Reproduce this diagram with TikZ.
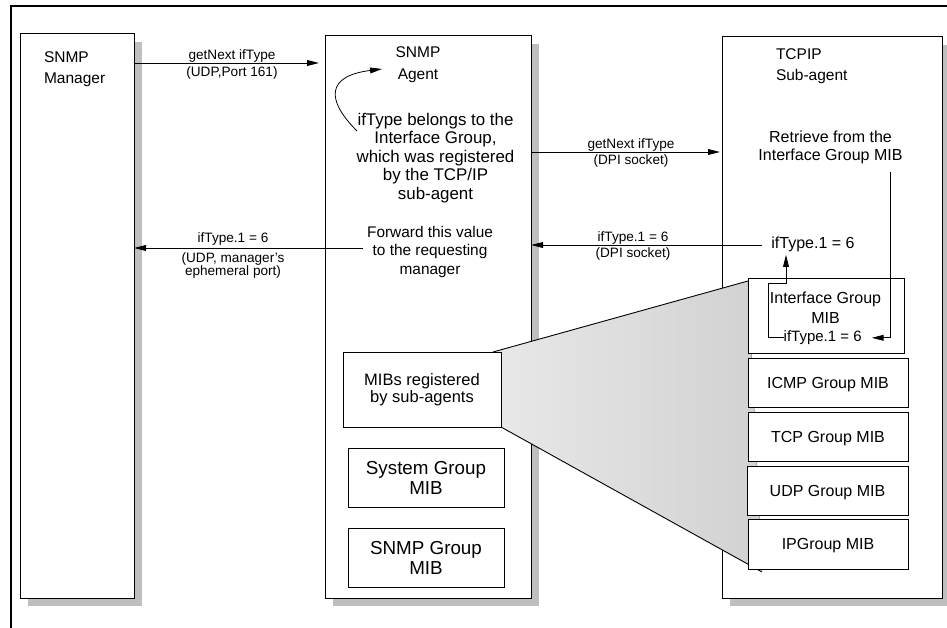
\documentclass[tikz,border=0pt]{standalone}
\usepackage{fontspec}
\setmainfont{Liberation Sans}
\usetikzlibrary{arrows.meta,shadows,calc}
\newcommand{\mlc}[1]{\begin{tabular}[t]{@{}c@{}}#1\end{tabular}}
\newcommand{\mlw}[1]{\begin{tabular}[t]{@{}l@{}}#1\end{tabular}}
\begin{document}
\begin{tikzpicture}[x=1pt,y=-1pt,
  panel/.style={draw=black, line width=1pt, fill=white, inner sep=0pt, outer sep=0pt,
    drop shadow={shadow xshift=8pt, shadow yshift=-8pt, fill=gray!50, opacity=1}},
  mib/.style={draw=black, line width=0.9pt, fill=white, inner sep=0pt, outer sep=0pt},
  txt/.style={inner sep=0pt, outer sep=0pt, anchor=base},
  ttl/.style={txt, font=\fontsize{15.5}{21}\selectfont},
  body/.style={txt, font=\fontsize{16}{18.5}\selectfont},
  lbl/.style={txt, font=\fontsize{13.6}{14}\selectfont},
  big/.style={font=\fontsize{18.8}{20}\selectfont, align=center},
  mibtxt/.style={font=\fontsize{16}{20}\selectfont, text depth=0pt},
  arr/.style={line width=0.9pt, -{Triangle[length=12pt,width=5.8pt]}},
  ln/.style={line width=0.9pt},
]
\useasboundingbox (0,0) rectangle (947,628);
% outer frame
\draw[line width=1.3pt] (11,628) -- (11,6) -- (947,6);

% panels
\node[panel, minimum width=114pt, minimum height=564pt] (mgr) at (77,316) {};
\node[panel, minimum width=206pt, minimum height=562pt] (agt) at (428,317) {};
\node[panel, minimum width=220pt, minimum height=561pt] (sub) at (832,317.5) {};

% wedge
\coordinate (wa) at (493,352);
\coordinate (wb) at (748,281);
\coordinate (wc) at (762,572);
\coordinate (wd) at (501,427);
\shade[left color=gray!18, right color=gray!36] (wa) -- (wb) -- (wc) -- (wd) -- cycle;
\draw[ln] (wa) -- (wb);
\draw[ln] (wd) -- (wc);
\draw[gray, line width=0.5pt] (wb) -- (wc);

% agent MIB boxes
\node[mib, minimum width=158pt, minimum height=75pt, font=\fontsize{16.5}{17}\selectfont, align=center] (mibs) at (422,389.5) {MIBs registered\\by sub-agents};
\node[mib, minimum width=156pt, minimum height=59pt, big] (sys) at (426,477.5) {System Group\\MIB};
\node[mib, minimum width=156pt, minimum height=59pt, big] (snmpg) at (426,557.5) {SNMP Group\\MIB};

% sub-agent MIB stack
\node[mib, minimum width=156pt, minimum height=75pt] (ifb) at (826,315.5) {};
\node[mib, minimum width=160pt, minimum height=49pt, mibtxt] (icmp) at (828,382.5) {ICMP Group MIB};
\node[mib, minimum width=160pt, minimum height=49pt, mibtxt] (tcp) at (828,436.5) {TCP Group MIB};
\node[mib, minimum width=161pt, minimum height=49pt, mibtxt] (udp) at (827.5,490.5) {UDP Group MIB};
\node[mib, minimum width=160pt, minimum height=50pt, mibtxt] (ipg) at (828,544) {IPGroup MIB};
\node[txt, font=\fontsize{16}{20}\selectfont] (ifn) at (825.5,303.3) {\mlc{Interface Group\\MIB}};
\node[txt, font=\fontsize{15}{15}\selectfont] (sml) at (822.7,341.7) {ifType.1 = 6};

% titles and texts
\node[ttl, anchor=base west] (mgrt) at (44,62.5) {\mlw{SNMP\\Manager}};
\node[ttl, font=\fontsize{15.5}{21.5}\selectfont] (agtt) at (418,58) {\mlc{SNMP\\Agent}};
\node[ttl, anchor=base west] (subt) at (776,59.5) {\mlw{TCPIP\\Sub-agent}};
\node[body, font=\fontsize{16.9}{18.5}\selectfont] (agtxt) at (435.5,125.5) {\mlc{ifType belongs to the\\Interface Group,\\which was registered\\by the TCP/IP\\sub-agent}};
\node[body, font=\fontsize{15.4}{18.5}\selectfont] (fwd) at (430,237.5) {\mlc{Forward this value\\to the requesting\\manager}};
\node[body, font=\fontsize{16}{18}\selectfont] (ret) at (830.5,143) {\mlc{Retrieve from the\\Interface Group MIB}};
\node[body] (ift) at (813,248) {ifType.1 = 6};

% message arrows
\coordinate (y1) at (0,63);
\coordinate (y2) at (0,152);
\coordinate (y3) at (0,248);
\coordinate (y4) at (0,245);
\draw[arr, shorten >=6pt] (mgr.east |- y1) -- (agt.west |- y1);
\node[lbl] (l1a) at (232,60) {getNext ifType};
\node[lbl] (l1b) at (232,76.5) {(UDP,Port 161)};

\draw[arr, shorten >=2pt] (agt.east |- y2) -- (sub.west |- y2);
\node[lbl] (l2a) at (631,148.3) {getNext ifType};
\node[lbl] (l2b) at (631,165) {(DPI socket)};

\draw[arr, shorten <=4pt] (fwd.west |- y3) -- (mgr.east |- y3);
\node[lbl] (l3a) at (233,243) {ifType.1 = 6};
\node[lbl, font=\fontsize{13.6}{13.5}\selectfont] (l3b) at (233,262) {\mlc{(UDP, manager's\\ephemeral port)}};

\draw[arr, shorten <=9pt] (ift.west |- y4) -- (agt.east |- y4);
\node[lbl] (l4a) at (633,241.5) {ifType.1 = 6};
\node[lbl] (l4b) at (633,258) {(DPI socket)};

% internal arrows in sub-agent
\coordinate (xr) at (890,0);
\draw[arr, shorten <=6pt, shorten >=10pt] (ret.south -| xr) -- (xr |- sml.east) -- (sml.east);
\coordinate (bend) at (786,283);
\draw[arr, shorten >=3.5pt] (sml.west) -- ++(-15,0) |- (bend) -- (bend |- ift.south);

% curved arrow in agent
\coordinate (cs) at (357,131);
\coordinate (ce) at (382,69);
\draw[arr, line width=0.8pt] (cs) .. controls (326,100) and (326,76) .. (ce);
\end{tikzpicture}
\end{document}
